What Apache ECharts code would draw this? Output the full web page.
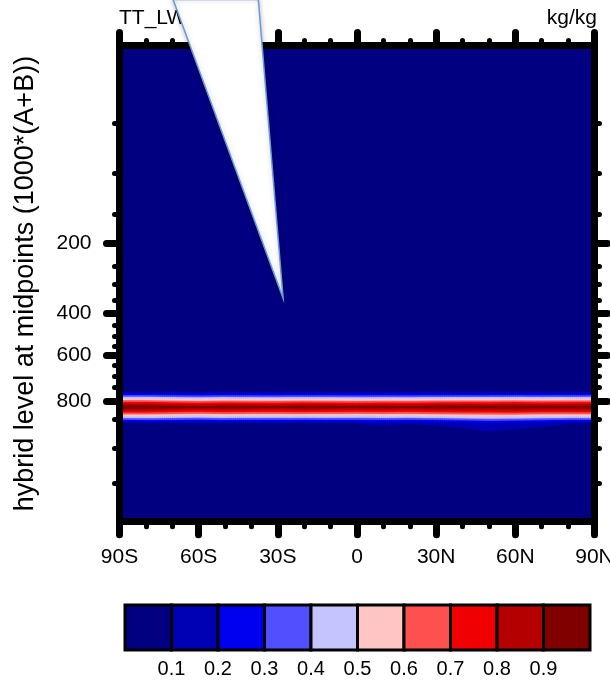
<!DOCTYPE html>
<html>
<head>
<meta charset="utf-8">
<script src="https://cdn.jsdelivr.net/npm/echarts@6/dist/echarts.min.js"></script>
<style>
  html, body { margin: 0; padding: 0; background: #fff; }
  #chart { width: 610px; height: 681px; }
</style>
</head>
<body>
<div id="chart"></div>
<script>
// hybrid level midpoints (1000*(A+B)), top to bottom
const levels = [3.64, 7.59, 14.36, 24.61, 38.27, 54.6, 72.01, 87.82, 103.32, 121.55,
  142.99, 168.23, 197.91, 232.83, 273.91, 322.24, 379.1, 445.99, 524.69, 609.78,
  691.39, 763.4, 820.86, 859.53, 887.02, 912.64, 936.2, 957.49, 976.33, 992.56];
const lats = [-90, -80, -70, -60, -50, -40, -30, -20, -10, 0, 10, 20, 30, 40, 50, 60, 70, 80, 90];
const latTickLabels = ['90S', '60S', '30S', '0', '30N', '60N', '90N'];
const levMajorTicks = [200, 400, 600, 800];
const levMinorTicks = [50, 100, 150, 250, 300, 350, 450, 500, 550, 650, 700, 750, 850, 900, 950];

// field values (kg/kg), only the rows around the cloud layer differ from background
const bgValue = 0.02;
const row691 = [0.01, 0.01, 0.01, 0.01, 0.01, 0.01, 0.01, 0.01, 0.01, 0.01, 0.01, 0.01, 0.01, 0.01, 0.01, 0.01, 0.01, 0.01, 0.01];
const row763 = [0.02, 0.02, 0.02, 0.01, 0.02, 0.02, 0.02, 0.02, 0.02, 0.02, 0.02, 0.02, 0.02, 0.02, 0.02, 0.02, 0.02, 0.02, 0.02];
const row821 = [0.99, 0.98, 0.95, 0.93, 0.95, 0.94, 0.93, 0.95, 0.94, 0.92, 0.94, 0.93, 0.95, 0.96, 0.95, 0.97, 0.95, 0.96, 0.97];
const row860 = [0.09, 0.10, 0.10, 0.09, 0.10, 0.10, 0.10, 0.09, 0.10, 0.10, 0.11, 0.10, 0.11, 0.13, 0.16, 0.14, 0.12, 0.10, 0.10];
const row887 = [0.02, 0.02, 0.02, 0.02, 0.02, 0.02, 0.02, 0.02, 0.02, 0.02, 0.02, 0.02, 0.02, 0.02, 0.03, 0.02, 0.02, 0.02, 0.02];

const contourLevels = [0.1, 0.2, 0.3, 0.4, 0.5, 0.6, 0.7, 0.8, 0.9];
const contourLabels = ['0.1', '0.2', '0.3', '0.4', '0.5', '0.6', '0.7', '0.8', '0.9'];
const fillColors = ['#000080', '#0000b4', '#0000f0', '#5050ff', '#c4c4ff',
  '#ffc4c4', '#ff5050', '#f00000', '#b40000', '#800000'];

// white wedge crossing the top of the plot (lat, level index)
const spikeLat = [-69.7, -28.0, -37.4];
const spikeLev = [-2.8, 15.4, -2.8];

const fieldRows = { 20: row691, 21: row763, 22: row821, 23: row860, 24: row887 };
const val = (i, k) => (fieldRows[k] ? fieldRows[k][i] : bgValue);

const levToIdx = (p) => {
  for (let k = 0; k < levels.length - 1; k++) {
    if (p >= levels[k] && p <= levels[k + 1]) {
      return k + (p - levels[k]) / (levels[k + 1] - levels[k]);
    }
  }
  return p < levels[0] ? 0 : levels.length - 1;
};
const majorPos = levMajorTicks.map(levToIdx);
const minorPos = levMinorTicks.map(levToIdx);

const cells = [];
for (let i = 0; i < lats.length - 1; i++) {
  for (let k = 19; k <= 24; k++) cells.push([lats[i], k]);
}
const cbEdges = [0, ...contourLevels, 1];
const cbData = fillColors.map((c, b) => [cbEdges[b], cbEdges[b + 1]]);

const font = 'Liberation Sans, Arial, sans-serif';
const black = '#000';

const renderField = (params, api) => {
  const i = lats.indexOf(api.value(0));
  const k = api.value(1);
  const p0 = api.coord([lats[i], k]);
  const p1 = api.coord([lats[i + 1], k + 1]);
  const x0 = p0[0], x1 = p1[0], y0 = p0[1], y1 = p1[1];
  const v00 = val(i, k), v10 = val(i + 1, k), v01 = val(i, k + 1), v11 = val(i + 1, k + 1);
  const n = Math.max(1, Math.round((x1 - x0) / 2));
  const w = (x1 - x0) / n;
  const children = [];
  for (let s = 0; s < n; s++) {
    const t = (s + 0.5) / n;
    const vt = v00 + (v10 - v00) * t;
    const vb = v01 + (v11 - v01) * t;
    for (let b = 0; b < fillColors.length; b++) {
      const lo = b === 0 ? -Infinity : contourLevels[b - 1];
      const hi = b === fillColors.length - 1 ? Infinity : contourLevels[b];
      let a, c;
      if (vt === vb) {
        if (vt >= lo && vt < hi) { a = 0; c = 1; } else continue;
      } else {
        const sa = (lo - vt) / (vb - vt);
        const sb = (hi - vt) / (vb - vt);
        a = Math.max(0, Math.min(sa, sb));
        c = Math.min(1, Math.max(sa, sb));
        if (c <= a) continue;
      }
      children.push({
        type: 'rect',
        shape: { x: x0 + w * s, y: y0 + (y1 - y0) * a, width: w + 0.6, height: (y1 - y0) * (c - a) + 0.6 },
        style: { fill: fillColors[b] }
      });
    }
  }
  return { type: 'group', children };
};

const chart = echarts.init(document.getElementById('chart'));

const xAxisBase = {
  type: 'value', min: -90, max: 90, interval: 30, gridIndex: 0, z: 5,
  axisLine: { show: true, onZero: false, lineStyle: { color: black, width: 7, cap: 'square' } },
  axisTick: { show: true, length: 13, lineStyle: { color: black, width: 7, cap: 'round' } },
  minorTick: { show: true, splitNumber: 3, length: 5, lineStyle: { color: black, width: 5, cap: 'round' } },
  splitLine: { show: false },
  minorSplitLine: { show: false }
};
const yAxisBase = {
  type: 'value', min: 0, max: levels.length - 1, inverse: true, gridIndex: 0, z: 5,
  splitLine: { show: false }
};

const option = {
  animation: false,
  backgroundColor: '#fff',
  grid: [
    { left: 119.5, right: 15.5, top: 45.5, bottom: 159.3, show: true, backgroundColor: '#000080', borderWidth: 0, outerBoundsMode: 'none' },
    { left: 125, top: 605, width: 465, height: 45, outerBoundsMode: 'none' }
  ],
  xAxis: [
    Object.assign({}, xAxisBase, {
      position: 'bottom',
      axisLabel: {
        color: black, fontSize: 21, fontFamily: font, margin: 25,
        formatter: (v) => latTickLabels[Math.round((v + 90) / 30)]
      }
    }),
    Object.assign({}, xAxisBase, { position: 'top', axisLabel: { show: false } }),
    {
      type: 'value', gridIndex: 1, min: 0, max: 1,
      axisLine: { show: false }, axisTick: { show: false }, splitLine: { show: false },
      axisLabel: {
        customValues: contourLevels, color: black, fontSize: 20, fontFamily: font, margin: 9,
        formatter: (v) => contourLabels[contourLevels.findIndex(c => Math.abs(c - v) < 1e-6)]
      }
    }
  ],
  yAxis: [
    Object.assign({}, yAxisBase, {
      position: 'left',
      name: 'hybrid level at midpoints (1000*(A+B))',
      nameLocation: 'middle',
      nameGap: 80,
      nameTextStyle: { color: black, fontSize: 27, fontFamily: font },
      axisLine: { show: true, onZero: false, lineStyle: { color: black, width: 7, cap: 'square' } },
      axisTick: { show: true, customValues: majorPos, length: 13, lineStyle: { color: black, width: 7, cap: 'round' } },
      axisLabel: {
        customValues: majorPos, color: black, fontSize: 21, fontFamily: font, margin: 28,
        formatter: (v) => String(levMajorTicks[majorPos.findIndex(p => Math.abs(p - v) < 1e-6)])
      }
    }),
    Object.assign({}, yAxisBase, {
      position: 'left',
      axisLine: { show: false, onZero: false },
      axisTick: { show: true, customValues: minorPos, length: 5, lineStyle: { color: black, width: 5, cap: 'round' } },
      axisLabel: { show: false }
    }),
    Object.assign({}, yAxisBase, {
      position: 'right',
      axisLine: { show: true, onZero: false, lineStyle: { color: black, width: 7, cap: 'square' } },
      axisTick: { show: true, customValues: majorPos, length: 13, lineStyle: { color: black, width: 7, cap: 'round' } },
      axisLabel: { show: false }
    }),
    Object.assign({}, yAxisBase, {
      position: 'right',
      axisLine: { show: false, onZero: false },
      axisTick: { show: true, customValues: minorPos, length: 5, lineStyle: { color: black, width: 5, cap: 'round' } },
      axisLabel: { show: false }
    }),
    { type: 'value', gridIndex: 1, min: 0, max: 1, show: false }
  ],
  graphic: [
    { type: 'text', x: 119, y: 18, z: 0, style: { text: 'TT_LW', fill: black, fontSize: 21, fontFamily: font, verticalAlign: 'middle', align: 'left' } },
    { type: 'text', x: 597, y: 18, z: 0, style: { text: 'kg/kg', fill: black, fontSize: 21, fontFamily: font, verticalAlign: 'middle', align: 'right' } }
  ],
  series: [
    {
      type: 'custom',
      xAxisIndex: 0, yAxisIndex: 0,
      data: cells,
      renderItem: renderField,
      silent: true
    },
    {
      type: 'custom',
      xAxisIndex: 0, yAxisIndex: 0,
      clip: false,
      z: 10,
      data: [[spikeLat[1], spikeLev[1]]],
      renderItem: (params, api) => ({
        type: 'polygon',
        shape: { points: spikeLat.map((la, j) => api.coord([la, spikeLev[j]])) },
        style: { fill: '#fff', stroke: '#6a9bd6', lineWidth: 1.5, shadowBlur: 5, shadowColor: 'rgba(0,0,0,0.25)' }
      }),
      silent: true
    },
    {
      type: 'custom',
      xAxisIndex: 2, yAxisIndex: 4,
      data: cbData,
      encode: { x: [0, 1] },
      renderItem: (params, api) => {
        const p0 = api.coord([api.value(0), 1]);
        const p1 = api.coord([api.value(1), 0]);
        return {
          type: 'rect',
          shape: { x: p0[0], y: p0[1], width: p1[0] - p0[0], height: p1[1] - p0[1] },
          style: { fill: fillColors[params.dataIndex], stroke: black, lineWidth: 3 }
        };
      },
      silent: true
    }
  ]
};

chart.setOption(option);
</script>
</body>
</html>
